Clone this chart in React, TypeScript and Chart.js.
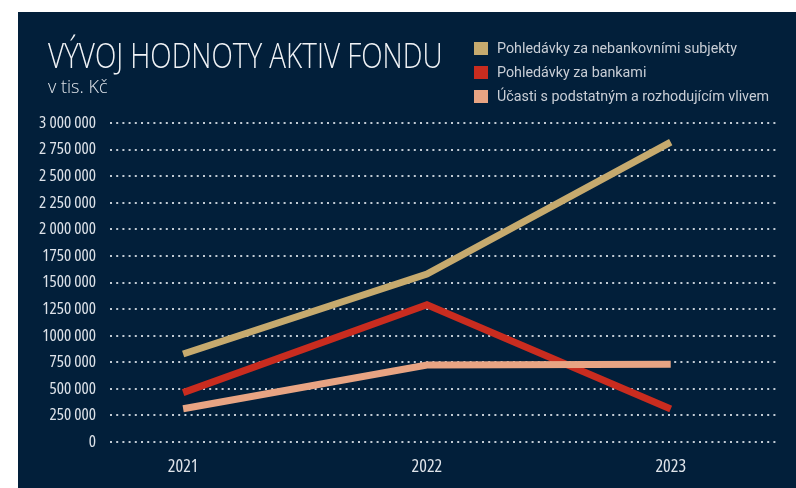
import React, { useEffect, useRef } from "react";
import { Chart, registerables } from "chart.js";

Chart.register(...registerables);

const title = "VÝVOJ HODNOTY AKTIV FONDU";
const subtitle = "v tis. Kč";

const years = [2021, 2022, 2023];
const seriesNames = [
  "Pohledávky za nebankovními subjekty",
  "Pohledávky za bankami",
  "Účasti s podstatným a rozhodujícím vlivem",
];
const seriesColors = ["#c6aa6e", "#c92c1f", "#e8a483"];
const nebankovni = [828000, 1580000, 2820000];
const banky = [464000, 1290000, 310000];
const ucasti = [313000, 724000, 731000];

const yTickLabels = [
  "0",
  "250 000",
  "500 000",
  "750 000",
  "1000 000",
  "1250 000",
  "1500 000",
  "1750 000",
  "2 000 000",
  "2 250 000",
  "2 500 000",
  "2 750 000",
  "3 000 000",
];

const BG = "#021f3a";
const FONT = "'Open Sans'";

export default function App() {
  const ref = useRef<HTMLCanvasElement | null>(null);

  useEffect(() => {
    if (!ref.current) return;
    const values = [nebankovni, banky, ucasti];
    const chart = new Chart(ref.current, {
      type: "line",
      data: {
        datasets: values.map((vals, i) => ({
          label: seriesNames[i],
          data: vals.map((v, j) => ({ x: years[j], y: v })),
          borderColor: seriesColors[i],
          backgroundColor: seriesColors[i],
          borderWidth: 7,
          borderCapStyle: "butt" as const,
          borderJoinStyle: "miter" as const,
          pointRadius: 0,
          tension: 0,
          fill: false,
          order: i === 1 ? 1 : 0,
        })),
      },
      options: {
        animation: false,
        responsive: false,
        maintainAspectRatio: false,
        layout: { padding: { top: 111, right: 18, left: 0, bottom: 0 } },
        plugins: {
          legend: { display: false },
          title: { display: false },
          tooltip: { enabled: false },
        },
        scales: {
          x: {
            type: "linear",
            min: 2020.7,
            max: 2023.44,
            afterBuildTicks: (scale: any) => {
              scale.ticks = years.map((y) => ({ value: y }));
            },
            afterFit: (scale: any) => {
              scale.height = 46;
            },
            grid: { display: false, drawTicks: false },
            border: { display: false },
            ticks: {
              padding: 14,
              color: "#dfe4ea",
              font: { family: FONT, size: 18, weight: "400 condensed" as any },
              callback: (v: any) => String(v),
            },
          },
          y: {
            min: 0,
            max: 3000000,
            afterFit: (scale: any) => {
              scale.width = 92;
            },
            grid: {
              color: "rgba(215,222,230,0.9)",
              lineWidth: 2,
              drawTicks: false,
            },
            border: { display: false, dash: [2, 4.2] },
            ticks: {
              stepSize: 250000,
              padding: 14,
              color: "#dde2e9",
              font: { family: FONT, size: 17, weight: "400 condensed" as any },
              callback: (_v: any, i: number) => yTickLabels[i],
            },
          },
        },
      },
    });
    return () => chart.destroy();
  }, []);

  return (
    <div
      style={{
        position: "absolute",
        left: 18,
        top: 12,
        width: 778,
        height: 476,
        background: BG,
        overflow: "hidden",
      }}
    >
      <canvas ref={ref} width={778} height={476} style={{ position: "absolute", left: 0, top: 0 }} />
      <div
        style={{
          position: "absolute",
          left: 30,
          top: 20,
          fontFamily: FONT,
          fontWeight: 300,
          fontSize: 34,
          color: "#f1f3f6",
          whiteSpace: "nowrap",
          lineHeight: "normal",
          transform: "scaleX(0.82)",
          transformOrigin: "0 0",
        }}
      >
        {title}
      </div>
      <div
        style={{
          position: "absolute",
          left: 30,
          top: 61,
          fontFamily: FONT,
          fontWeight: 300,
          fontSize: 19,
          color: "#dfe3e9",
          whiteSpace: "nowrap",
          lineHeight: "normal",
          transform: "scaleX(0.95)",
          transformOrigin: "0 0",
        }}
      >
        {subtitle}
      </div>
      {seriesNames.map((name, i) => (
        <div key={name} style={{ position: "absolute", left: 456, top: 29.5 + i * 24.2, height: 14 }}>
          <div style={{ position: "absolute", left: 0, top: 0, width: 14, height: 13, background: seriesColors[i] }} />
          <div
            style={{
              position: "absolute",
              left: 23,
              top: -1,
              fontFamily: "Roboto",
              fontWeight: 400,
              fontSize: 14.3,
              lineHeight: "14px",
              color: "#c9ced6",
              whiteSpace: "nowrap",
            }}
          >
            {name}
          </div>
        </div>
      ))}
    </div>
  );
}
